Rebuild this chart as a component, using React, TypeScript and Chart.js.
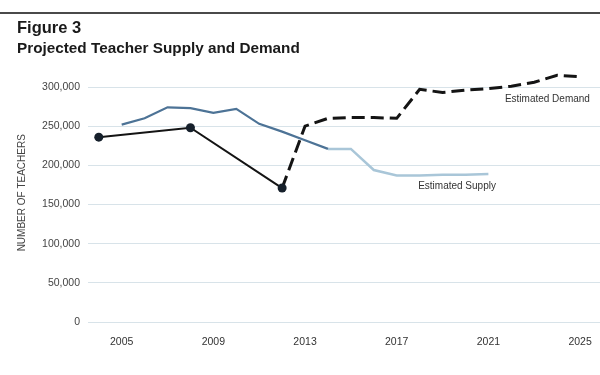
import React, { useEffect, useRef } from "react";
import { Chart, registerables } from "chart.js";

Chart.register(...registerables);

// ---- Data ----
const actualYears = [2004, 2008, 2012];
const actualValues = [236000, 248000, 171000];

const supplyYears = [2005, 2006, 2007, 2008, 2009, 2010, 2011, 2012, 2013, 2014];
const supplyValues = [252000, 260000, 274000, 273000, 267000, 272000, 253000, 243000, 232000, 221000];

const estSupplyYears = [2014, 2015, 2016, 2017, 2018, 2019, 2020, 2021];
const estSupplyValues = [221000, 221000, 194000, 187000, 187000, 188000, 188000, 189000];

const demandYears = [2012, 2013, 2014, 2015, 2016, 2017, 2018, 2019, 2020, 2021, 2022, 2023, 2024, 2025];
const demandValues = [171000, 250000, 260000, 261000, 261000, 260000, 297000, 293000, 296000, 298000, 301000, 306000, 315000, 313000];

const xTickYears = [2005, 2009, 2013, 2017, 2021, 2025];
const yTickValues = [0, 50000, 100000, 150000, 200000, 250000, 300000];

const titleText = "Figure 3";
const subtitleText = "Projected Teacher Supply and Demand";
const yAxisTitle = "NUMBER OF TEACHERS";
const demandLabel = "Estimated Demand";
const supplyLabel = "Estimated Supply";

const toXY = (xs: number[], ys: number[]) => xs.map((x, i) => ({ x, y: ys[i] }));

const FONT = "'Liberation Sans', Arial, sans-serif";

const labelPlugin = {
  id: "lineLabels",
  afterDatasetsDraw(chart: any) {
    const { ctx, scales } = chart;
    const x = scales.x;
    const y = scales.y;
    ctx.save();
    ctx.font = `10px ${FONT}`;
    ctx.fillStyle = "#333";
    ctx.textAlign = "right";
    ctx.textBaseline = "middle";
    ctx.fillText(demandLabel, x.getPixelForValue(2025.43), y.getPixelForValue(284500));
    ctx.fillText(supplyLabel, x.getPixelForValue(2021.33), y.getPixelForValue(173500));
    ctx.restore();
  },
};

export default function App() {
  const canvasRef = useRef<HTMLCanvasElement | null>(null);

  useEffect(() => {
    if (!canvasRef.current) return;
    const chart = new Chart(canvasRef.current, {
      type: "line",
      data: {
        datasets: [
          {
            label: "Demand (actual)",
            data: toXY(actualYears, actualValues),
            borderColor: "#141414",
            backgroundColor: "#141414",
            borderWidth: 2,
            pointRadius: 4.5,
            pointBackgroundColor: "#16202b",
            pointBorderWidth: 0,
            tension: 0,
            order: 0,
          },
          {
            label: "Estimated Demand",
            data: toXY(demandYears, demandValues),
            borderColor: "#141414",
            borderWidth: 3,
            borderDash: [13, 6],
            pointRadius: 0,
            tension: 0,
            order: 1,
          },
          {
            label: "Supply",
            data: toXY(supplyYears, supplyValues),
            borderColor: "#4d7396",
            borderWidth: 2.2,
            pointRadius: 0,
            tension: 0,
            order: 2,
          },
          {
            label: "Estimated Supply",
            data: toXY(estSupplyYears, estSupplyValues),
            borderColor: "#a9c6d8",
            borderWidth: 2.5,
            pointRadius: 0,
            tension: 0,
            order: 3,
          },
        ],
      },
      options: {
        animation: false,
        responsive: false,
        maintainAspectRatio: false,
        layout: { autoPadding: false, padding: { top: 63.5, right: 0, left: 0, bottom: 0 } },
        plugins: {
          legend: { display: false },
          tooltip: { enabled: false },
          title: { display: false },
        },
        scales: {
          x: {
            type: "linear",
            min: 2003.53,
            max: 2025.87,
            grid: { display: false, drawTicks: false },
            border: { display: false },
            afterBuildTicks: (scale: any) => {
              scale.ticks = xTickYears.map((v) => ({ value: v }));
            },
            afterFit: (scale: any) => {
              scale.height = 53;
            },
            ticks: {
              padding: 2,
              autoSkip: false,
              maxRotation: 0,
              color: "#333",
              font: { family: FONT, size: 10.5, lineHeight: "36px" },
              callback: (v: any) => String(v),
            },
          },
          y: {
            type: "linear",
            min: 0,
            max: 330000,
            grid: { color: "#d8e3e9", lineWidth: 1, drawTicks: false },
            border: { display: false },
            afterBuildTicks: (scale: any) => {
              scale.ticks = yTickValues.map((v) => ({ value: v }));
            },
            afterFit: (scale: any) => {
              scale.width = 88;
            },
            ticks: {
              padding: 8,
              color: "#444",
              font: { family: FONT, size: 10.5 },
              callback: (v: any) => Number(v).toLocaleString("en-US"),
            },
            title: {
              display: true,
              text: yAxisTitle,
              color: "#444",
              font: { family: FONT, size: 10 },
              padding: { top: 16, bottom: 0 },
            },
          },
        },
      },
      plugins: [labelPlugin],
    });
    return () => chart.destroy();
  }, []);

  return (
    <div style={{ position: "fixed", left: 0, top: 0, width: 600, height: 375, background: "#fff", overflow: "hidden" }}>
      <canvas ref={canvasRef} width={600} height={375} style={{ position: "absolute", left: 0, top: 0, width: 600, height: 375 }} />
      <div style={{ position: "absolute", left: 0, top: 12, width: 600, height: 2, background: "#4a4a4a" }} />
      <div
        style={{
          position: "absolute",
          left: 17,
          top: 18.5,
          fontFamily: FONT,
          fontWeight: "bold",
          fontSize: 16.5,
          lineHeight: "16.5px",
          color: "#1a1a1a",
          whiteSpace: "nowrap",
        }}
      >
        {titleText}
      </div>
      <div
        style={{
          position: "absolute",
          left: 17,
          top: 40.4,
          fontFamily: FONT,
          fontWeight: "bold",
          fontSize: 15.3,
          lineHeight: "15.3px",
          color: "#1a1a1a",
          whiteSpace: "nowrap",
        }}
      >
        {subtitleText}
      </div>
    </div>
  );
}
